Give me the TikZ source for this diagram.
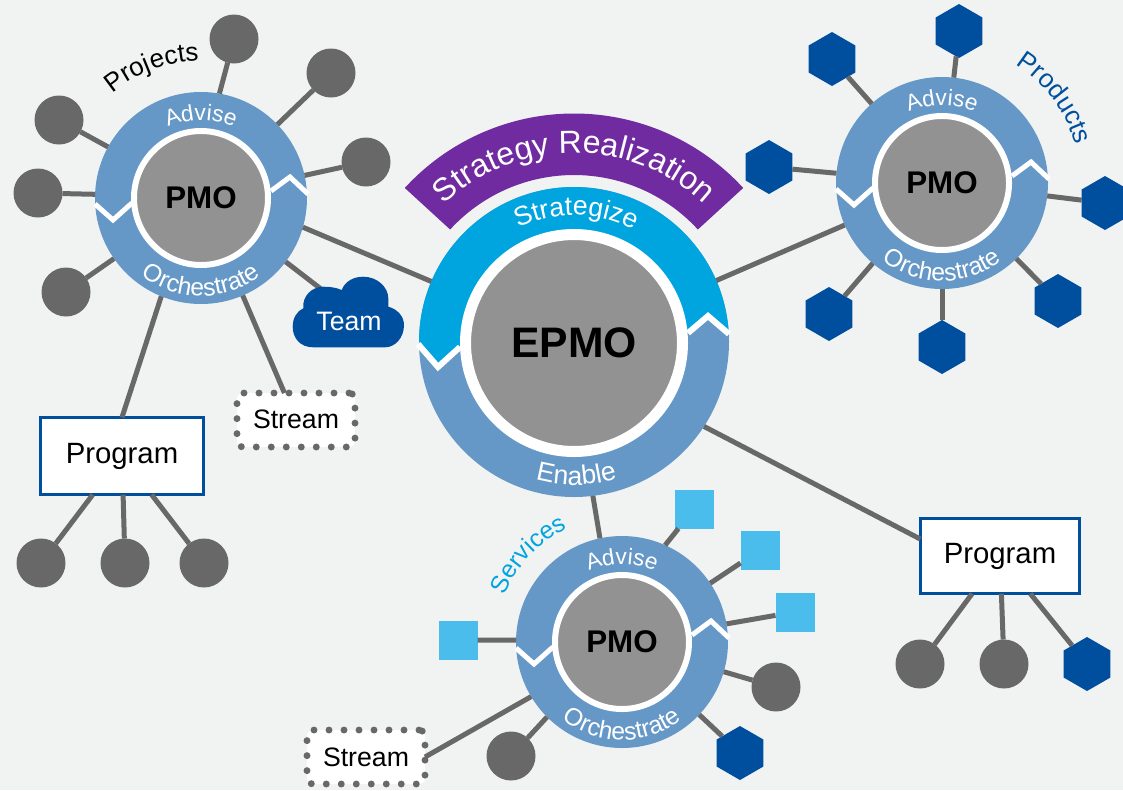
\documentclass[tikz,border=0pt]{standalone}
\usepackage{fontspec}
\setmainfont{Liberation Sans}
\usetikzlibrary{calc,shapes.geometric,decorations.text}
\definecolor{pagegray}{RGB}{241,243,243}
\definecolor{ringblue}{RGB}{101,152,199}
\definecolor{stratcyan}{RGB}{0,165,224}
\definecolor{stratpurple}{RGB}{113,43,160}
\definecolor{darkblue}{RGB}{0,79,158}
\definecolor{skyblue}{RGB}{74,189,236}
\definecolor{satgray}{RGB}{104,104,104}
\definecolor{coregray}{RGB}{146,146,146}
\newcommand{\ringfont}{\fontsize{17pt}{20pt}\selectfont}
\newcommand{\orchfont}{\fontsize{18.5pt}{22pt}\selectfont}
\newcommand{\tagfont}{\fontsize{19.5pt}{23pt}\selectfont}
\newcommand{\epmofont}{\fontsize{20pt}{24pt}\selectfont}
\newcommand{\bandfont}{\fontsize{24pt}{28pt}\selectfont}
\tikzset{
	every node/.style={outer sep=0pt, inner sep=0pt},
	hubring/.style={circle, fill=ringblue, minimum size=159pt},
	hubcore/.style={circle, fill=coregray, draw=white, line width=4.5pt, minimum size=100.5pt, font=\bfseries\fontsize{23.5pt}{27pt}\selectfont},
	satdot/.style={circle, fill=satgray, minimum size=36.75pt},
	sathex/.style={regular polygon, regular polygon sides=6, shape border rotate=90, fill=darkblue, minimum size=40.5pt},
	satsquare/.style={rectangle, fill=skyblue, minimum size=29.25pt},
	programbox/.style={rectangle, draw=darkblue, fill=white, line width=2.5pt, font=\fontsize{22pt}{26pt}\selectfont},
	streambox/.style={rectangle, draw=satgray, fill=white, line width=5.2pt, line cap=round, dash pattern=on 0pt off 11.25pt, rounded corners=4.5pt, minimum width=88.5pt, minimum height=40.5pt, font=\fontsize{20pt}{24pt}\selectfont},
	spoke/.style={draw=satgray, line width=3.75pt},
	chevron/.style={draw=white, line width=3.75pt},
	ringlabel/.style 2 args={decorate, decoration={text along path, text align=center, text color=#1, text={#2}}}
}

\begin{document}
\begin{tikzpicture}[x=0.75pt,y=0.75pt,yscale=-1,xscale=1]
	\clip (0,0) rectangle (1123,790);
	\fill [pagegray] (0,0) rectangle (1123,790);

	%Shape: Circle hubs
	\node [hubring] (hubL) at (201,198) {};
	\node [hubring] (hubR) at (942,183) {};
	\node [hubring] (hubS) at (622,642) {};
	\node [hubring, fill=ringblue, minimum size=232.5pt] (epmoRing) at (574,342) {};

	%Shape: Arc Strategize
	\fill [stratcyan] ($(epmoRing)+(179.3:155)$) arc[start angle=179.3, end angle=356.3, radius=155] -- (708,316) -- (688,333) -- (460,347) -- (438,367) -- cycle;
	\draw [chevron, line width=4.5pt] (418,344) -- (438,367) -- (460,347);
	\draw [chevron, line width=4.5pt] (688,333) -- (708,316) -- (729,334);

	%Shape: Arc Strategy Realization
	\fill [stratpurple] ($(574,343)+(222.5:229.5)$) arc[start angle=222.5, end angle=317.5, radius=229.5] -- ($(574,343)+(317.5:168)$) arc[start angle=317.5, end angle=222.5, radius=168] -- cycle;

	%Straight Lines chevrons
	\draw [chevron] (95,204) -- (113,220) -- (132,203);
	\draw [chevron] (271,191) -- (290,177) -- (308,194);
	\draw [chevron] (836,189) -- (854,205) -- (873,188);
	\draw [chevron] (1012,176) -- (1031,162) -- (1049,179);
	\draw [chevron] (516,648) -- (534,664) -- (553,647);
	\draw [chevron] (692,635) -- (711,621) -- (729,638);

	%Shape: Circle cores
	\node [hubcore] (pmoL) at (hubL) {PMO};
	\node [hubcore] (pmoR) at (hubR) {PMO};
	\node [hubcore] (pmoS) at (hubS) {PMO};
	\node [hubcore, line width=8.25pt, minimum size=162.75pt, font=\bfseries\fontsize{32pt}{36pt}\selectfont] (epmo) at (574,343) {EPMO};

	%Satellites of the projects hub
	\node [satdot] (projA) at (234,39) {};
	\node [satdot] (projB) at (331,73) {};
	\node [satdot] (projC) at (366,162) {};
	\node [satdot] (projD) at (59,120) {};
	\node [satdot] (projE) at (38,193) {};
	\node [satdot] (projF) at (66,292) {};
	\node [programbox, minimum width=122.5pt, minimum height=58pt] (programL) at (122,456) {\raisebox{-1.5pt}{Program}};
	\node [satdot] (progLA) at (41,563) {};
	\node [satdot] (progLB) at (125,563) {};
	\node [satdot] (progLC) at (204,563) {};
	\node [streambox] (streamL) at (296,420) {\raisebox{1.5pt}{Stream}};

	%Satellites of the products hub
	\node [sathex] (prodA) at (832,59) {};
	\node [sathex] (prodB) at (959,31) {};
	\node [sathex] (prodC) at (769,167) {};
	\node [sathex] (prodD) at (1105,203) {};
	\node [sathex] (prodE) at (1058,301) {};
	\node [sathex] (prodF) at (942,347) {};
	\node [sathex] (prodG) at (829,314) {};

	%Satellites of the services hub
	\node [satsquare] (servA) at (694,509) {};
	\node [satsquare] (servB) at (760,550) {};
	\node [satsquare] (servC) at (795,612) {};
	\node [satsquare] (servD) at (458,640) {};
	\node [satdot] (servE) at (776,687) {};
	\node [satdot] (servF) at (511,756) {};
	\node [sathex] (servG) at (740,753) {};
	\node [streambox] (streamS) at (366,757) {Stream};
	\node [programbox, minimum width=119.5pt, minimum height=56.5pt] (programR) at (1000,556) {\raisebox{-1.5pt}{Program}};
	\node [satdot] (progRA) at (920,664) {};
	\node [satdot] (progRB) at (1004,664) {};
	\node [sathex] (progRC) at (1087,664) {};

	%Straight Lines
	\draw [spoke] (hubL.80) -- (projA);
	\draw [spoke] (hubL) -- (projB);
	\draw [spoke] (hubL) -- (projC);
	\draw [spoke] (hubL) -- (projD);
	\draw [spoke] (hubL.178) -- (projE);
	\draw [spoke] (hubL) -- (projF);
	\draw [spoke] (hubL.-112) -- (programL.north);
	\draw [spoke] (hubL) -- (streamL);
	\draw [spoke] (programL) -- (progLA);
	\draw [spoke] (programL) -- (progLB);
	\draw [spoke] (programL) -- (progLC);
	\draw [spoke] (hubR) -- (prodA);
	\draw [spoke] (hubR) -- (prodB);
	\draw [spoke] (hubR) -- (prodC);
	\draw [spoke] (hubR) -- (prodD);
	\draw [spoke] (hubR) -- (prodE);
	\draw [spoke] (hubR) -- (prodF);
	\draw [spoke] (hubR) -- (prodG);
	\draw [spoke] (hubS.66) -- (servA);
	\draw [spoke] (hubS) -- (servB);
	\draw [spoke] (hubS) -- (servC);
	\draw [spoke] (hubS.179) -- (servD);
	\draw [spoke] (hubS) -- (servE);
	\draw [spoke] (hubS.-135) -- (servF);
	\draw [spoke] (hubS) -- (servG);
	\draw [spoke] (hubS.-149) -- (streamS.east);
	\draw [spoke] (programR) -- (progRA);
	\draw [spoke] (programR) -- (progRB);
	\draw [spoke] (programR) -- (progRC);
	\draw [spoke] (hubL.-16) -- (epmoRing.157);
	\draw [spoke] (hubR) -- (epmoRing);
	\draw [spoke] (epmoRing.-83) -- (hubS.102);
	\draw [spoke] (epmoRing.-33) -- (programR.168);

	%Shape: Cloud
	\coordinate (teamTop) at (321,289);
	\draw [spoke] (hubL.-37) -- (teamTop);
	\fill [darkblue] (313.3,347.3) .. controls (300,347.3) and (292.7,338) .. (292.7,326.7) .. controls (292.7,318) and (297,311) .. (303.3,308.3) .. controls (302,296) and (312,286.7) .. (323.3,286.7) .. controls (330,286.7) and (336,287.5) .. (341.7,290) .. controls (345,281) and (354,276.7) .. (363.3,276.7) .. controls (377,276.7) and (388.3,287) .. (388.3,298.3) .. controls (388.3,301) and (388.3,304) .. (388.3,306.7) .. controls (397,309) and (404,316) .. (404,325) .. controls (404,338) and (395,347.3) .. (385,347.3) -- cycle;
	\node [text=white, font=\fontsize{20pt}{24pt}\selectfont] (team) at (349,321) {Team};

	% Text along arcs
	\path [ringlabel={white}{|\ringfont|Advise}] ($(hubL)+(-130:78)$) arc[start angle=-130, end angle=-50, radius=78];
	\path [ringlabel={white}{|\orchfont|Orchestrate}] ($(hubL)+(135:98)$) arc[start angle=135, end angle=45, radius=98];
	\path [ringlabel={white}{|\ringfont|Advise}] ($(hubR)+(-130:78)$) arc[start angle=-130, end angle=-50, radius=78];
	\path [ringlabel={white}{|\orchfont|Orchestrate}] ($(hubR)+(135:98)$) arc[start angle=135, end angle=45, radius=98];
	\path [ringlabel={white}{|\ringfont|Advise}] ($(hubS)+(-130:78)$) arc[start angle=-130, end angle=-50, radius=78];
	\path [ringlabel={white}{|\orchfont|Orchestrate}] ($(hubS)+(135:98)$) arc[start angle=135, end angle=45, radius=98];
	\path [ringlabel={white}{|\epmofont|Strategize}] ($(epmoRing)+(-124:127)$) arc[start angle=-124, end angle=-54, radius=127];
	\path [ringlabel={white}{|\epmofont|Enable}] ($(epmoRing)+(124:143)$) arc[start angle=124, end angle=54, radius=143];
	\path [ringlabel={white}{|\bandfont|Strategy Realization}] ($(574,343)+(-140:190)$) arc[start angle=-140, end angle=-40, radius=190];
	\path [ringlabel={black}{|\tagfont|Projects}] ($(hubL)+(-140.5:137)$) arc[start angle=-140.5, end angle=-80.5, radius=137];
	\path [ringlabel={darkblue}{|\tagfont|Products}] ($(hubR)+(-67:139)$) arc[start angle=-67, end angle=-7, radius=139];
	\path [ringlabel={stratcyan}{|\orchfont|Services}] ($(hubS)+(-167:126)$) arc[start angle=-167, end angle=-107, radius=126];
\end{tikzpicture}
\end{document}
